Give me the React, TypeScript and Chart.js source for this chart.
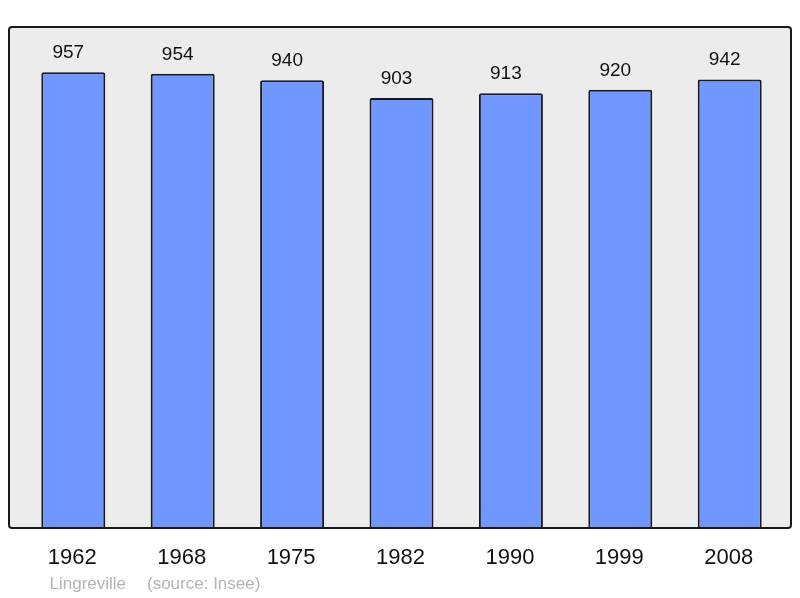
import React, { useEffect, useRef } from "react";
import { Chart, registerables } from "chart.js";

Chart.register(...registerables);

const years: string[] = ["1962", "1968", "1975", "1982", "1990", "1999", "2008"];
const population: number[] = [957, 954, 940, 903, 913, 920, 942];
const placeName = "Lingreville";
const sourceNote = "(source: Insee)";

const FONT = "'Liberation Sans', Arial, 'DejaVu Sans', sans-serif";

const boxPlugin = {
  id: "boxPlugin",
  beforeDatasetsDraw(chart: any) {
    const { ctx, chartArea } = chart;
    const l = chartArea.left - 9.6;
    const r = chartArea.right + 6.6;
    const t = chartArea.top;
    const b = chartArea.bottom;
    ctx.save();
    ctx.beginPath();
    ctx.roundRect(l, t, r - l, b - t, 3);
    ctx.fillStyle = "#ececec";
    ctx.fill();
    ctx.restore();
  },
  afterDatasetsDraw(chart: any) {
    const { ctx, chartArea } = chart;
    const l = chartArea.left - 9.6;
    const r = chartArea.right + 6.6;
    const t = chartArea.top;
    const b = chartArea.bottom;
    ctx.save();
    ctx.beginPath();
    ctx.roundRect(l, t, r - l, b - t, 3);
    ctx.lineWidth = 2;
    ctx.strokeStyle = "#1a1a1a";
    ctx.stroke();

    const meta = chart.getDatasetMeta(0);
    const xScale = chart.scales.x;
    ctx.fillStyle = "#111";
    ctx.textAlign = "center";
    ctx.textBaseline = "alphabetic";
    ctx.font = `19px ${FONT}`;
    meta.data.forEach((bar: any, i: number) => {
      ctx.fillText(String(population[i]), bar.x - 5, bar.y - 14);
    });
    ctx.font = `22px ${FONT}`;
    years.forEach((y, i) => {
      ctx.fillText(y, xScale.getPixelForValue(i) - 1, b + 36);
    });
    ctx.textAlign = "left";
    ctx.fillStyle = "#b4b4b4";
    ctx.font = `17px ${FONT}`;
    ctx.fillText(placeName, l + 40.5, b + 61);
    ctx.fillText(sourceNote, l + 138, b + 61);
    ctx.restore();
  },
};

export default function App() {
  const ref = useRef<HTMLCanvasElement | null>(null);
  useEffect(() => {
    if (!ref.current) return;
    const chart = new Chart(ref.current, {
      type: "bar",
      data: {
        labels: years,
        datasets: [
          {
            data: population,
            backgroundColor: "#7096ff",
            borderColor: "#1a1a1a",
            borderWidth: 2,
            borderRadius: { topLeft: 2, topRight: 2, bottomLeft: 0, bottomRight: 0 },
            borderSkipped: "bottom",
            barPercentage: 0.585,
            categoryPercentage: 1,
          },
        ],
      },
      options: {
        responsive: false,
        animation: false,
        devicePixelRatio: 1,
        layout: { padding: { left: 18.6, right: 15.6, top: 27, bottom: 70 } },
        plugins: { legend: { display: false }, tooltip: { enabled: false } },
        scales: {
          x: { display: false },
          y: { display: false, min: 0, max: 1052 },
        },
      },
      plugins: [boxPlugin],
    });
    return () => chart.destroy();
  }, []);
  return (
    <div style={{ position: "absolute", left: 0, top: 0, width: 800, height: 598, background: "#fff" }}>
      <canvas ref={ref} width={800} height={598} style={{ display: "block" }} />
    </div>
  );
}
